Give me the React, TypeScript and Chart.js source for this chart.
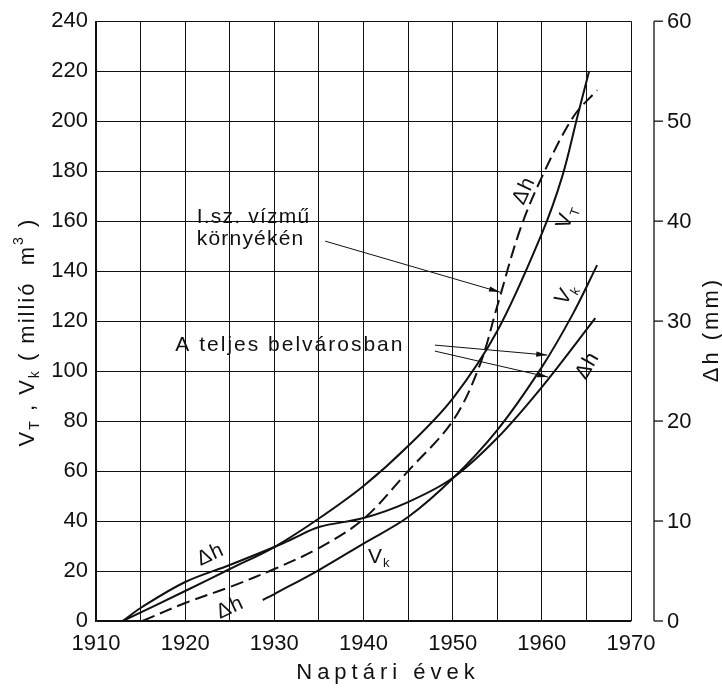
import React, { useEffect, useRef } from "react";
import { Chart, registerables } from "chart.js";
Chart.register(...registerables);

const FONT = '"Liberation Sans", Arial, sans-serif';
const INK = "#111";

// ---- data (years / values) ----
const vtYears = [1913, 1920, 1925, 1930, 1935, 1940, 1945, 1950, 1955, 1960, 1962.3, 1964, 1965.3];
const vtValues = [0, 12, 20.8, 29.6, 41, 54, 70, 89, 116, 155, 178, 202, 220];

const vkYears = [1928.7, 1930, 1935, 1940, 1945, 1950, 1955, 1960, 1963.5, 1966.2];
const vkValues = [8.4, 10.8, 20.4, 31, 41.6, 57, 76.4, 101.6, 123, 142.4];

const dhCityYears = [1913, 1915, 1920, 1925, 1930, 1932, 1935, 1940, 1945, 1950, 1955, 1960, 1966];
const dhCityValues = [0, 1.3, 3.9, 5.6, 7.4, 8.2, 9.4, 10.3, 11.9, 14.3, 18.3, 23.4, 30.3];

const dhWaterYears = [1915.2, 1920, 1925, 1930, 1935, 1940, 1945, 1950, 1953, 1955, 1957.5, 1960, 1963.5, 1966.2];
const dhWaterValues = [0, 1.8, 3.4, 5.2, 7.3, 10.2, 15, 20, 25.5, 31.5, 39, 44.4, 50.4, 53.1];

const xTickLabels = [1910, 1920, 1930, 1940, 1950, 1960, 1970];
const leftTicks = [0, 20, 40, 60, 80, 100, 120, 140, 160, 180, 200, 220, 240];
const rightTicks = [0, 10, 20, 30, 40, 50, 60];

const waterNoteText = ["I.sz. vízmű", "környékén"];
const cityNoteText = "A teljes belvárosban";
const xTitle = "Naptári évek";
const rightTitle = "Δh (mm)";

type Part = [string, "n" | "sub" | "sup"];
const leftTitleParts: Part[] = [["V", "n"], ["T", "sub"], [" , ", "n"], ["V", "n"], ["k", "sub"], [" ( millió  m", "n"], ["3", "sup"], [" )", "n"]];

// annotation anchors in data units (year, left-axis value)
const waterNoteAnchor = { year: 1921.3, values: [161.6, 152.8] };
const cityNoteAnchor = { year: 1918.9, value: 110.4 };
const pointerFrom = [[1935.7, 152], [1948.0, 110.4], [1948.0, 108]];
const pointerTo = [[1955.3, 131.6], [1960.6, 106.4], [1960.7, 97.6]];
const curveLabels: { parts: Part[]; year: number; value: number; angle: number }[] = [
  { parts: [["Δh", "n"]], year: 1922.8, value: 26.4, angle: -25 },
  { parts: [["Δh", "n"]], year: 1925.0, value: 5.2, angle: -25 },
  { parts: [["V", "n"], ["k", "sub"]], year: 1941.7, value: 25.6, angle: 0 },
  { parts: [["V", "n"], ["k", "sub"]], year: 1962.7, value: 130.8, angle: -58 },
  { parts: [["Δh", "n"]], year: 1965.1, value: 102, angle: -60 },
  { parts: [["Δh", "n"]], year: 1958.0, value: 172, angle: -65 },
  { parts: [["V", "n"], ["T", "sub"]], year: 1962.8, value: 161.6, angle: -70 },
];

function pts(xs: number[], ys: number[]) {
  return xs.map((x, i) => ({ x, y: ys[i] }));
}

function drawRich(ctx: any, parts: Part[], cx: number, cy: number, angle: number, size: number, spacing: number, align = "center") {
  ctx.save();
  ctx.translate(cx, cy);
  ctx.rotate((angle * Math.PI) / 180);
  ctx.letterSpacing = spacing + "px";
  ctx.textBaseline = "middle";
  ctx.textAlign = "left";
  ctx.fillStyle = INK;
  const sizes = parts.map(([, k]) => (k === "n" ? size : Math.round(size * 0.62)));
  const widths = parts.map((p, i) => {
    ctx.font = `${sizes[i]}px ${FONT}`;
    return ctx.measureText(p[0]).width;
  });
  const total = widths.reduce((a, b) => a + b, 0) - spacing;
  let x0 = align === "center" ? -total / 2 : 0;
  parts.forEach((p, i) => {
    ctx.font = `${sizes[i]}px ${FONT}`;
    const dy = p[1] === "sub" ? size * 0.32 : p[1] === "sup" ? -size * 0.38 : 0;
    ctx.fillText(p[0], x0, dy);
    x0 += widths[i];
  });
  ctx.restore();
}

function arrowLine(ctx: any, x1: number, y1: number, x2: number, y2: number) {
  ctx.beginPath();
  ctx.moveTo(x1, y1);
  ctx.lineTo(x2, y2);
  ctx.stroke();
  const a = Math.atan2(y2 - y1, x2 - x1);
  const L = 11, W = 2.6;
  ctx.beginPath();
  ctx.moveTo(x2, y2);
  ctx.lineTo(x2 - L * Math.cos(a) - W * Math.sin(a), y2 - L * Math.sin(a) + W * Math.cos(a));
  ctx.lineTo(x2 - L * Math.cos(a) + W * Math.sin(a), y2 - L * Math.sin(a) - W * Math.cos(a));
  ctx.closePath();
  ctx.fill();
}

const overlay = {
  id: "overlay",
  afterDraw(chart: any) {
    const ctx = chart.ctx;
    const xs = chart.scales.x, ys = chart.scales.y, y2 = chart.scales.y2;
    const area = chart.chartArea;
    ctx.save();
    ctx.strokeStyle = INK;
    ctx.fillStyle = INK;

    // right axis
    const axX = area.right + 23;
    ctx.lineWidth = 1.3;
    ctx.beginPath();
    ctx.moveTo(axX, y2.getPixelForValue(rightTicks[rightTicks.length - 1]));
    ctx.lineTo(axX, y2.getPixelForValue(rightTicks[0]));
    ctx.stroke();
    ctx.font = `22px ${FONT}`;
    ctx.textAlign = "left";
    ctx.textBaseline = "middle";
    rightTicks.forEach((v) => {
      const py = y2.getPixelForValue(v);
      ctx.beginPath();
      ctx.moveTo(axX, py);
      ctx.lineTo(axX + 9, py);
      ctx.stroke();
      ctx.fillText(String(v), axX + 13, py + 1);
    });

    // axis titles
    drawRich(ctx, [[rightTitle, "n"]], 712, (area.top + area.bottom) / 2 + 10, -90, 22, 3);
    drawRich(ctx, leftTitleParts, 28, (area.top + area.bottom) / 2 + 12, -90, 22, 2);
    drawRich(ctx, [[xTitle, "n"]], (area.left + area.right) / 2 + 22, 673, 0, 22, 5);

    // notes
    ctx.lineWidth = 1;
    waterNoteText.forEach((t, i) => {
      drawRich(ctx, [[t, "n"]], xs.getPixelForValue(waterNoteAnchor.year), ys.getPixelForValue(waterNoteAnchor.values[i]), 0, 21, 1.2, "left");
    });
    drawRich(ctx, [[cityNoteText, "n"]], xs.getPixelForValue(cityNoteAnchor.year), ys.getPixelForValue(cityNoteAnchor.value), 0, 21, 2, "left");
    pointerFrom.forEach((f, i) => {
      const t = pointerTo[i];
      arrowLine(ctx, xs.getPixelForValue(f[0]), ys.getPixelForValue(f[1]), xs.getPixelForValue(t[0]), ys.getPixelForValue(t[1]));
    });
    curveLabels.forEach((c) => {
      drawRich(ctx, c.parts, xs.getPixelForValue(c.year), ys.getPixelForValue(c.value), c.angle, 21, 1);
    });
    ctx.restore();
  },
};

export default function App() {
  const ref = useRef<HTMLCanvasElement>(null);
  useEffect(() => {
    const lineBase = {
      borderColor: INK,
      borderWidth: 2,
      pointRadius: 0,
      fill: false,
      tension: 0.35,
    };
    const chart = new Chart(ref.current as HTMLCanvasElement, {
      type: "line",
      data: {
        datasets: [
          { ...lineBase, label: "V_T", data: pts(vtYears, vtValues), yAxisID: "y" },
          { ...lineBase, label: "V_k", data: pts(vkYears, vkValues), yAxisID: "y" },
          { ...lineBase, label: "Δh (teljes belváros)", data: pts(dhCityYears, dhCityValues), yAxisID: "y2" },
          { ...lineBase, label: "Δh (I. sz. vízmű)", data: pts(dhWaterYears, dhWaterValues), yAxisID: "y2", borderDash: [13, 6] },
        ],
      },
      options: {
        animation: false,
        responsive: false,
        devicePixelRatio: 1,
        layout: { padding: { top: 21, right: 91, left: 0, bottom: 0 } },
        plugins: { legend: { display: false }, tooltip: { enabled: false } },
        scales: {
          x: {
            type: "linear",
            min: 1910,
            max: 1970,
            afterFit: (s: any) => { s.height = 69; },
            ticks: {
              stepSize: 5,
              autoSkip: false,
              maxRotation: 0,
              padding: 10,
              color: INK,
              font: { family: FONT, size: 22 },
              callback: (v: any) => (xTickLabels.includes(Number(v)) ? String(v) : ""),
            },
            grid: { color: INK, lineWidth: 1, drawTicks: false },
            border: { color: INK, width: 1.3 },
          },
          y: {
            type: "linear",
            position: "left",
            min: leftTicks[0],
            max: leftTicks[leftTicks.length - 1],
            afterFit: (s: any) => { s.width = 96; },
            ticks: {
              stepSize: leftTicks[1] - leftTicks[0],
              padding: 8,
              color: INK,
              font: { family: FONT, size: 22 },
            },
            grid: { color: INK, lineWidth: 1, drawTicks: false },
            border: { color: INK, width: 1.3 },
          },
          y2: {
            type: "linear",
            display: false,
            min: rightTicks[0],
            max: rightTicks[rightTicks.length - 1],
          },
        },
      },
      plugins: [overlay],
    });
    return () => chart.destroy();
  }, []);
  return (
    <div style={{ position: "absolute", left: 0, top: 0, width: 722, height: 690, background: "#fff" }}>
      <canvas ref={ref} width={722} height={690} style={{ display: "block" }} />
    </div>
  );
}
